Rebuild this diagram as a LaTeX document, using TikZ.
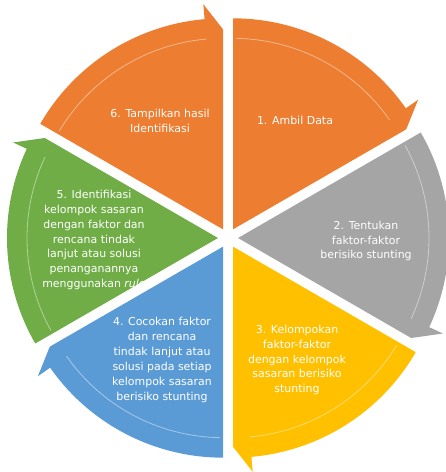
\documentclass[tikz,border=0pt]{standalone}
\usepackage{fontspec}
\setmainfont{DejaVu Sans}
\definecolor{segorange}{HTML}{ED7D31}
\definecolor{seggray}{HTML}{A5A5A5}
\definecolor{segyellow}{HTML}{FFC000}
\definecolor{segblue}{HTML}{5B9BD5}
\definecolor{seggreen}{HTML}{70AD47}

\begin{document}
\begin{tikzpicture}[x=1bp, y=1bp,
  lbl/.style={text=white, align=center, font=\fontsize{11}{15}\selectfont}]
\useasboundingbox (-228,-234) rectangle (218,238);
% one pie slice per step, arrow head on the rim
\foreach \s/\c in {90/segorange, 30/seggray, -30/segyellow, -90/segblue, -150/seggreen, 150/segorange} {
  \begin{scope}[shift={(\s-30:10)}]
    \fill[\c] (0,0) -- (\s:211) arc[start angle=\s, end angle=\s-55, radius=211]
      -- (\s-55:226) -- (\s-60:200) -- cycle;
    \draw[white, opacity=.45, line width=.8] (\s-1:191) arc[start angle=\s-1, end angle=\s-55, radius=191];
  \end{scope}
}
\node[lbl] (t1) at (67,118) {1. Ambil Data};
\node[lbl] (t2) at (138,-3) {2. Tentukan\\faktor-faktor\\berisiko stunting};
\node[lbl] (t3) at (69,-122) {3. Kelompokan\\faktor-faktor\\dengan kelompok\\sasaran berisiko\\stunting};
\node[lbl] (t4) at (-66,-122) {4. Cocokan faktor\\dan rencana\\tindak lanjut atau\\solusi pada setiap\\kelompok sasaran\\berisiko stunting};
\node[lbl] (t5) at (-134,-2) {5. Identifikasi\\kelompok sasaran\\dengan faktor dan\\rencana tindak\\lanjut atau solusi\\penanganannya\\menggunakan \textit{rule}};
\node[lbl] (t6) at (-68,117) {6. Tampilkan hasil\\Identifikasi};
\end{tikzpicture}
\end{document}
